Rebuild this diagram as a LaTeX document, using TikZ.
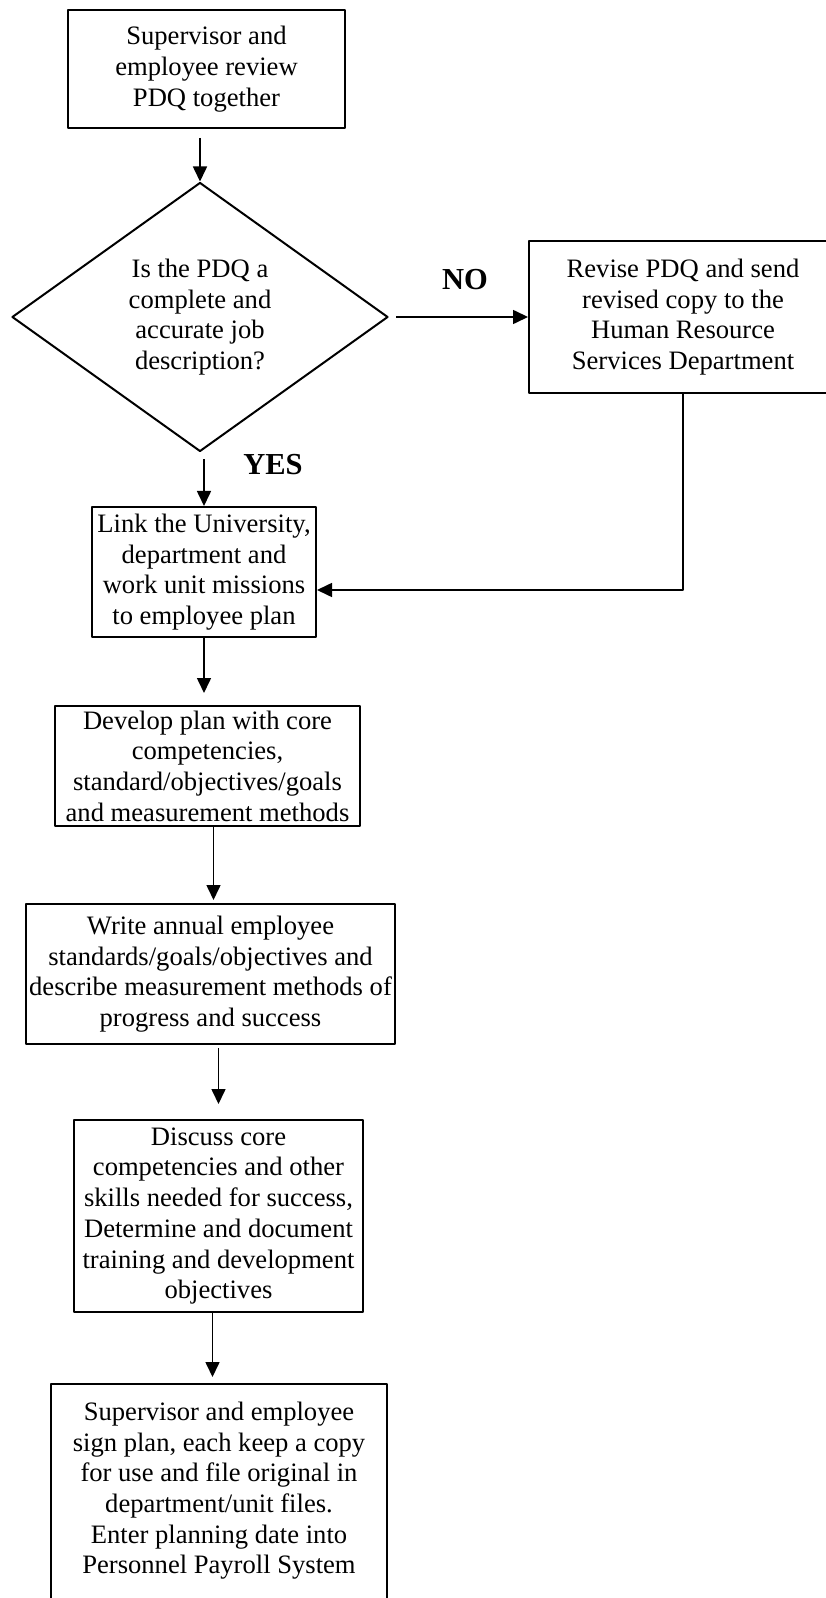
\documentclass[tikz,border=0pt]{standalone}
\usepackage{fontspec}
\setmainfont{Liberation Serif}
\usetikzlibrary{shapes.geometric}
\usetikzlibrary{arrows.meta}

\begin{document}
\begin{tikzpicture}[x=0.5pt, y=-0.5pt, line join=round,
    box/.style={draw, line width=1pt, inner sep=1pt, align=center,
      font=\fontsize{13.3}{15.35}\selectfont},
    flow/.style={line width=0.8pt, -{Triangle[length=7.5pt, width=7pt]}},
    answer/.style={font=\fontsize{15.25}{18}\selectfont\bfseries}]
  \useasboundingbox (0,0) rectangle (825,1598);
  \node[box, minimum width=138.5pt, minimum height=59pt] (review) at (206.5,69) {Supervisor and\\employee review\\PDQ together};
  \node[box, diamond, aspect=1.4, inner sep=0pt, minimum width=188pt, minimum height=134.5pt] (check) at (200,317) {Is the PDQ a\\complete and\\accurate job\\description?};
  \node[box, minimum width=154pt, minimum height=76pt] (revise) at (683,317) {Revise PDQ and send\\revised copy to the\\Human Resource\\Services Department};
  \node[box, minimum width=112pt, minimum height=65pt] (link) at (204,572) {Link the University,\\department and\\work unit missions\\to employee plan};
  \node[box, minimum width=152.5pt, minimum height=60pt] (develop) at (207.5,766) {Develop plan with core\\competencies,\\standard/objectives/goals\\and measurement methods};
  \node[box, minimum width=184.5pt, minimum height=70pt] (write) at (210.5,974) {Write annual employee\\standards/goals/objectives and\\describe measurement methods of\\progress and success};
  \node[box, minimum width=144.5pt, minimum height=96pt] (discuss) at (218.5,1216) {Discuss core\\competencies and other\\skills needed for success,\\Determine and document\\training and development\\objectives};
  \node[box, anchor=north, minimum width=168pt, inner ysep=9pt] (sign) at (219,1383) {Supervisor and employee\\sign plan, each keep a copy\\for use and file original in\\department/unit files.\\Enter planning date into\\Personnel Payroll System\\[12pt]\mbox{}};
  \node[answer] (no) at (465,280) {NO};
  \node[answer] (yes) at (273,465) {YES};

  \draw[flow] ([yshift=-4.5pt]review.south -| check.north) -- (check.north);
  \draw[flow, shorten <=3.5pt] (check.east) -- (revise.west);
  \draw[flow] ([yshift=-3.5pt]check.south -| link.north) -- (link.north);
  \draw[flow] (revise.south) |- ([yshift=-9pt]link.east);
  \draw[flow, shorten >=6pt] (link.south) -- (link.south |- develop.north);
  \draw[flow, shorten >=1.5pt] ([xshift=3pt]develop.south) -- ([xshift=3pt]develop.south |- write.north);
  \draw[flow, shorten <=1.5pt, shorten >=7.5pt] (write.south -| discuss.north) -- (discuss.north);
  \draw[flow, shorten >=3pt] ([xshift=-3pt]discuss.south) -- ([xshift=-3pt]discuss.south |- sign.north);
\end{tikzpicture}
\end{document}
